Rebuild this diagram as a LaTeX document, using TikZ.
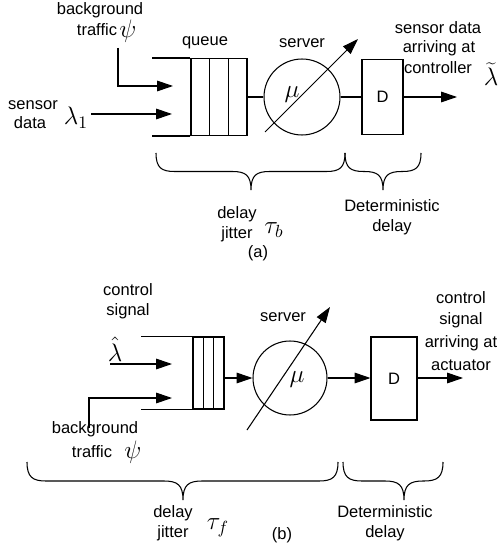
\documentclass[tikz,border=0pt]{standalone}
\usepackage{fontspec}
\setmainfont{Liberation Sans}
\usetikzlibrary{arrows.meta,calc}

% horizontal curly brace opening upwards: x-left, x-right, x-tip, y-top, half height
\newcommand\curlybrace[5]{%
  \draw (#1,#4) .. controls (#1,{#4+0.8*#5}) and ({#1+0.3*#5},{#4+#5}) .. ({#1+#5},{#4+#5})
    -- ({#3-#5},{#4+#5}) .. controls ({#3-0.3*#5},{#4+#5}) and (#3,{#4+1.2*#5}) .. (#3,{#4+2*#5})
    .. controls (#3,{#4+1.2*#5}) and ({#3+0.3*#5},{#4+#5}) .. ({#3+#5},{#4+#5})
    -- ({#2-#5},{#4+#5}) .. controls ({#2-0.3*#5},{#4+#5}) and (#2,{#4+0.8*#5}) .. (#2,#4);}

\begin{document}
\begin{tikzpicture}[x=0.02cm,y=-0.02cm,line width=0.6pt,
  lbl/.style={font=\fontsize{9.4}{11.4}\selectfont,inner sep=0pt,align=center},
  sym/.style={font=\fontsize{14.5}{16}\selectfont,inner sep=0pt},
  flow/.style={-{Triangle[length=9pt,width=6pt]}},
  queuebox/.style={draw,rectangle,inner sep=0pt},
  serverdisc/.style={draw,circle,inner sep=0pt},
  delaybox/.style={draw,rectangle,inner sep=0pt,font=\fontsize{9.4}{11.4}\selectfont}]
\useasboundingbox (0,0) rectangle (500,550);

% ---------------- (a) sensor to controller ----------------
\node[queuebox,minimum width=1.12cm,minimum height=1.54cm] (qa) at (219,97) {};
\foreach \f in {1/3,2/3}
  \draw ($(qa.north west)!\f!(qa.north east)$) -- ($(qa.south west)!\f!(qa.south east)$);
\draw (qa.north west) -- ++(-38,0);
\draw (qa.south west) -- ++(-38,0);

\node[serverdisc,minimum size=1.52cm] (srva) at (302,97) {};
\node[sym] (mua) at (292,95) {$\mu$};
\node[delaybox,minimum width=0.82cm,minimum height=1.5cm] (Da) at (382.5,97) {D};

\coordinate (bga0) at (118,48);
\coordinate (bga1) at (173,86);
\coordinate (sda0) at (91,114);
\coordinate (sda1) at (172,114);
\coordinate (dga0) at (265,132);
\coordinate (dga1) at (358,39);
\coordinate (outa) at (457,97);

\draw[flow] (bga0) |- (bga1);
\draw[flow] (sda0) -- (sda1);
\draw (qa.east) -- (srva.west);
\draw (srva.east) -- (Da.west);
\draw[flow] (Da.east) -- (outa);
\draw[flow] (dga0) -- (dga1);

\node[lbl] (bgla) at (100,10) {background};
\node[lbl] (trfa) at (97,30) {traffic};
\node[sym] (psia) at (128,31) {$\psi$};
\node[lbl] (qla) at (205,43) {queue};
\node[lbl] (svla) at (302,43) {server};
\node[lbl] (sla) at (33,105) {sensor};
\node[lbl] (dla) at (30,123) {data};
\node[sym] (lam1) at (76,118) {$\lambda_1$};
\node[lbl] (arra1) at (438,28) {sensor data};
\node[lbl] (arra2) at (439,48) {arriving at};
\node[lbl] (arra3) at (438,68) {controller};
\node[sym] (lamt) at (491,74) {$\widetilde{\lambda}$};

\curlybrace{156}{345}{251}{153}{18.5}
\curlybrace{345}{421}{383}{153}{18.5}
\node[lbl] (jita) at (237,224) {delay\\jitter};
\node[sym] (taub) at (274,230) {$\tau_b$};
\node[lbl] (capa) at (258,253) {(a)};
\node[lbl] (deta) at (392,217) {Deterministic\\delay};

% ---------------- (b) controller to actuator ----------------
\node[queuebox,minimum width=0.62cm,minimum height=1.44cm] (qb) at (208.5,373) {};
\foreach \f in {1/3,2/3}
  \draw ($(qb.north west)!\f!(qb.north east)$) -- ($(qb.south west)!\f!(qb.south east)$);
\draw (qb.north west) -- ++(-51,0);
\draw (qb.south west) -- ++(-51,0);

\node[serverdisc,minimum size=1.48cm] (srvb) at (290,378) {};
\node[sym] (mub) at (297,380) {$\mu$};
\node[delaybox,minimum width=0.92cm,minimum height=1.66cm] (Db) at (394,378.5) {D};

\coordinate (csb0) at (110,364);
\coordinate (csb1) at (172,364);
\coordinate (bgb0) at (89,428);
\coordinate (bgb1) at (172,398);
\coordinate (dgb0) at (247,430);
\coordinate (dgb1) at (330,307);
\coordinate (outb) at (463,378);

\draw[flow] (csb0) -- (csb1);
\draw[flow] (bgb0) |- (bgb1);
\draw[flow] (qb.east |- srvb.west) -- (srvb.west);
\draw[flow] (srvb.east) -- (Db.west |- srvb.east);
\draw[flow] (Db.east |- srvb.east) -- (outb);
\draw[flow] (dgb0) -- (dgb1);

\node[lbl] (csl1) at (128,290) {control};
\node[lbl] (csl2) at (128,311) {signal};
\node[sym] (lamh) at (115,349) {$\hat{\lambda}$};
\node[lbl] (svlb) at (283,317) {server};
\node[lbl] (arrb1) at (461,298) {control};
\node[lbl] (arrb2) at (461,320) {signal};
\node[lbl] (arrb3) at (461,343) {arriving at};
\node[lbl] (arrb4) at (461,365) {actuator};
\node[lbl] (bglb) at (95,429) {background};
\node[lbl] (trfb) at (92,452) {traffic};
\node[sym] (psib) at (133,452) {$\psi$};

\curlybrace{27}{338}{183}{462}{19}
\curlybrace{343}{443}{404}{462}{19}
\node[lbl] (jitb) at (173,523) {delay\\jitter};
\node[sym] (tauf) at (218,528) {$\tau_f$};
\node[lbl] (capb) at (282,535) {(b)};
\node[lbl] (detb) at (385,523) {Deterministic\\delay};
\end{tikzpicture}
\end{document}
